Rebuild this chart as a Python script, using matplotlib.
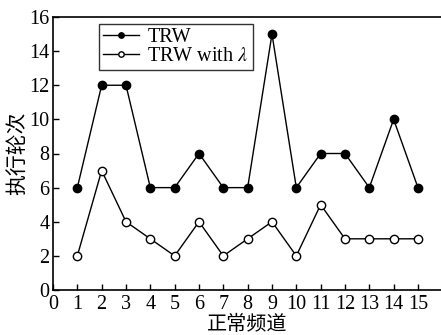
import matplotlib
matplotlib.use("Agg")
import matplotlib.pyplot as plt

channels = list(range(1, 16))
trw = [6, 12, 12, 6, 6, 8, 6, 6, 15, 6, 8, 8, 6, 10, 6]
trw_lambda = [2, 7, 4, 3, 2, 4, 2, 3, 4, 2, 5, 3, 3, 3, 3]
xticks = list(range(0, 16))
yticks = list(range(0, 17, 2))

plt.rcParams['font.family'] = ['Liberation Serif', 'DejaVu Serif']
plt.rcParams['mathtext.fontset'] = 'stix'

fig = plt.figure(figsize=(4.41, 3.35), dpi=100)
W, H = 441, 335
x0, x1 = 53, 442.3
y0, y1 = 290, 17
ax = fig.add_axes([x0 / W, 1 - y0 / H, (x1 - x0) / W, (y0 - y1) / H])

ax.plot(channels, trw, color='black', lw=1.0, marker='o', ms=6,
        markerfacecolor='black', label='TRW')
ax.plot(channels, trw_lambda, color='black', lw=1.0, marker='o', ms=6,
        markerfacecolor='white', markeredgewidth=1.0, label=r'TRW with $\lambda$')

ax.set_xlim(0, 16)
ax.set_ylim(0, 16)
ax.set_xticks(xticks)
ax.set_yticks(yticks)
ax.tick_params(direction='in', length=4, width=1, labelsize=14.5)
ax.tick_params(axis='x', pad=3.5)
ax.tick_params(axis='y', pad=2.5)
for s in ax.spines.values():
    s.set_linewidth(1.2)
ax.spines['right'].set_visible(False)

cjk = ['Noto Sans CJK SC', 'DejaVu Sans']
ax.set_xlabel('正常频道', family=cjk, fontsize=14.5, labelpad=0)
ax.set_ylabel('执行轮次', family=cjk, fontsize=15, labelpad=1)

leg = ax.legend(loc='upper left', bbox_to_anchor=((99 - x0) / (x1 - x0), (y0 - 24) / (y0 - y1)),
                fontsize=14.5, frameon=True, fancybox=False, edgecolor='black',
                markerscale=0.65, handlelength=1.8, borderpad=0.2, labelspacing=0.0,
                handletextpad=0.4, borderaxespad=0)
leg.get_frame().set_linewidth(1.0)

fig.savefig('out.png', dpi=100)
